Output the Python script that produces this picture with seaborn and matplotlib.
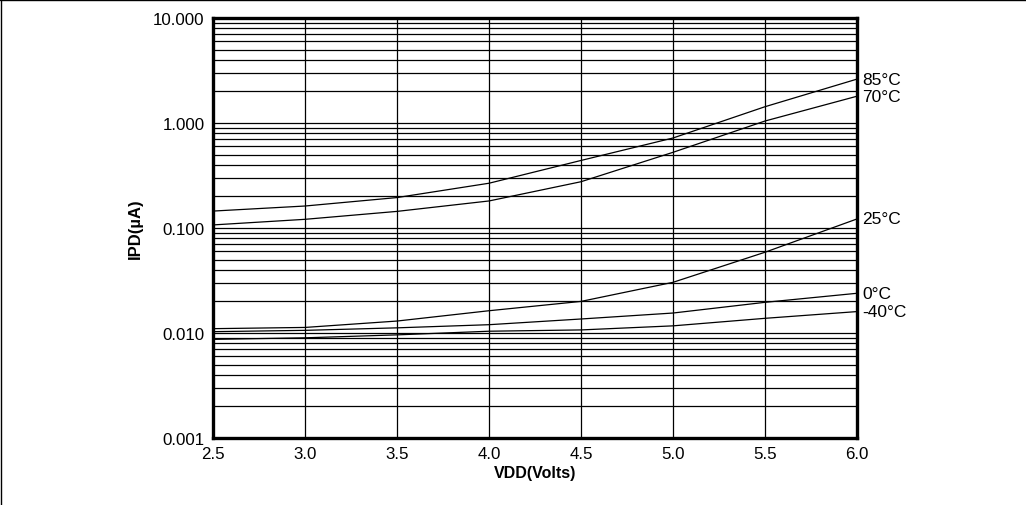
import numpy as np
import pandas as pd
import matplotlib
matplotlib.use("Agg")
import matplotlib.pyplot as plt
import seaborn as sns
from matplotlib.lines import Line2D
from matplotlib.ticker import LogLocator, FixedLocator, NullFormatter

# Data (IPD in uA vs VDD in volts)
vdd = [2.5, 3.0, 3.5, 4.0, 4.5, 5.0, 5.5, 6.0]
ipd_85c = [0.145, 0.162, 0.195, 0.267, 0.44, 0.72, 1.43, 2.62]
ipd_70c = [0.107, 0.121, 0.144, 0.181, 0.276, 0.526, 1.045, 1.80]
ipd_25c = [0.0110, 0.0113, 0.0130, 0.0163, 0.0200, 0.0304, 0.0588, 0.122]
ipd_0c = [0.0103, 0.0106, 0.0112, 0.0120, 0.0136, 0.0155, 0.0196, 0.0239]
ipd_m40c = [0.0087, 0.0090, 0.0096, 0.0104, 0.0107, 0.0117, 0.0138, 0.0160]
temps = ['85°C', '70°C', '25°C', '0°C', '-40°C']

series = [ipd_85c, ipd_70c, ipd_25c, ipd_0c, ipd_m40c]
df = pd.concat([pd.DataFrame({'VDD': vdd, 'IPD': s, 'temp': t})
                for s, t in zip(series, temps)], ignore_index=True)

sns.set_style("white")
plt.rcParams['font.family'] = ['Liberation Sans', 'DejaVu Sans']
plt.rcParams['text.color'] = 'black'

fig = plt.figure(figsize=(10.26, 5.06), dpi=100)
ax = fig.add_axes([0.2076, 0.1324, 0.6277, 0.8300])

sns.lineplot(data=df, x='VDD', y='IPD', hue='temp', palette=['black'] * len(temps),
             legend=False, lw=0.9, ax=ax, zorder=3)

ax.set_yscale('log')
ax.set_xlim(2.5, 6.0)
ax.set_ylim(0.001, 10)
ax.xaxis.set_major_locator(FixedLocator(np.arange(2.5, 6.01, 0.5)))
ax.set_xticklabels([f'{v:.1f}' for v in np.arange(2.5, 6.01, 0.5)])
ax.yaxis.set_major_locator(FixedLocator([0.001, 0.01, 0.1, 1, 10]))
ax.set_yticklabels(['0.001', '0.010', '0.100', '1.000', '10.000'])
ax.yaxis.set_minor_locator(LogLocator(base=10, subs=np.arange(2, 10)))
ax.yaxis.set_minor_formatter(NullFormatter())

ax.grid(True, which='major', axis='both', color='black', lw=0.9)
ax.grid(True, which='minor', axis='y', color='black', lw=0.9)
ax.tick_params(which='both', length=0, labelsize=12.2, colors='black')
ax.tick_params(axis='y', pad=6)
ax.tick_params(axis='x', pad=6)

for sp in ax.spines.values():
    sp.set_visible(True)
    sp.set_color('black')
    sp.set_linewidth(2.4)
    sp.set_zorder(5)

ax.set_xlabel('VDD(Volts)', fontsize=11.5, fontweight='bold', color='black')
ax.set_ylabel('IPD(µA)', fontsize=12, fontweight='bold', color='black')
ax.xaxis.set_label_coords(0.5, -0.064)
ax.yaxis.set_label_coords(-0.109, 0.5)

# temperature labels at the right end of each curve
for s, t in zip(series, temps):
    ax.annotate(t, xy=(vdd[-1], s[-1]), xytext=(4, 0), textcoords='offset points',
                va='center', ha='left', fontsize=12.5, color='black',
                annotation_clip=False)

# outer frame (top and left edges)
fig.add_artist(Line2D([0, 1], [0.999, 0.999], transform=fig.transFigure, color='black', lw=1))
fig.add_artist(Line2D([0.001, 0.001], [0, 1], transform=fig.transFigure, color='black', lw=1))

fig.savefig('out.png', dpi=100)
